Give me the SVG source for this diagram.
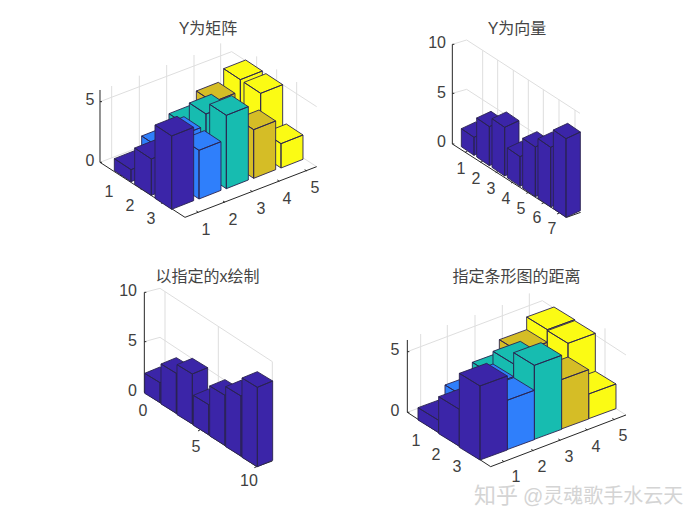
<svg xmlns="http://www.w3.org/2000/svg" width="700" height="525" viewBox="0 0 700 525">
<style>
text{font-family:"Liberation Sans","Noto Sans CJK SC",sans-serif;fill:#404040;font-size:16px;text-anchor:middle}
.t{font-size:16px;fill:#444}
.r{text-anchor:end}
.w{font-size:20px;fill:#d4d4d4;text-anchor:start}
.grid{fill:none;stroke:#dedede;stroke-width:3}
.axis{fill:none;stroke:#262626;stroke-width:3}
.bars path{stroke:#2a2450;stroke-width:2.700;stroke-linejoin:round}
.n{fill:#3b25a8}.b{fill:#2f7ffb}.c{fill:#17bcb0}.m{fill:#d5bd26}.y{fill:#fbfb14}
</style>
<rect width="700" height="525" fill="#fff"/>

<g id="panel1" transform="translate(70 10) scale(.33333)">
<path class="grid" d="M90 275L485 125 740 290M90 457L485 305 740 470M125 228V445M208 197V425M290 165V395M372 135V365M452 100V330M680 216V430M620 178V392M560 139V352"/>
<path class="axis" d="M90 240V457L345 622 740 470M90 275h6M90 457h6M150 497l9-3M212 538l9-3M273 580l9-3M385 607l-6-4M465 577l-6-4M547 545l-6-4M628 514l-6-4M710 483l-6-4"/>
<g class="bars">
<path class="y" d="M511 209l-50-33 66-26 50 33zv182l-50-33v-182zl66-26v182l-66 26z"/>
<path class="m" d="M429 276l-50-33 66-26 50 33zv146l-50-33v-146zl66-26v146l-66 26z"/>
<path class="c" d="M347 344l-50-33 66-26 50 33zv109l-50-33v-109zl66-26v109l-66 26z"/>
<path class="b" d="M265 411l-50-33 66-26 50 33zv73l-50-33v-73zl66-26v73l-66 26z"/>
<path class="n" d="M183 479l-50-33 66-26 50 33zv36l-50-33v-36zl66-26v36l-66 26z"/>
<path class="y" d="M572 250l-50-33 66-26 50 33zv182l-50-33v-182zl66-26v182l-66 26z"/>
<path class="m" d="M490 354l-50-33 66-26 50 33zv109l-50-33v-109zl66-26v109l-66 26z"/>
<path class="c" d="M408 312l-50-33 66-26 50 33zv182l-50-33v-182zl66-26v182l-66 26z"/>
<path class="b" d="M326 379l-50-33 66-26 50 33zv146l-50-33v-146zl66-26v146l-66 26z"/>
<path class="n" d="M244 447l-50-33 66-26 50 33zv109l-50-33v-109zl66-26v109l-66 26z"/>
<path class="y" d="M633 401l-50-33 66-26 50 33zv73l-50-33v-73zl66-26v73l-66 26z"/>
<path class="m" d="M551 359l-50-33 66-26 50 33zv146l-50-33v-146zl66-26v146l-66 26z"/>
<path class="c" d="M469 316l-50-33 66-26 50 33zv220l-50-33v-220zl66-26v220l-66 26z"/>
<path class="b" d="M387 421l-50-33 66-26 50 33zv146l-50-33v-146zl66-26v146l-66 26z"/>
<path class="n" d="M305 378l-50-33 66-26 50 33zv220l-50-33v-220zl66-26v220l-66 26z"/>
</g>
</g>

<g id="panel2" transform="translate(410 10) scale(.33333)">
<path class="grid" d="M127 103L170 90 510 310M127 250L170 238 510 458M218 121V420M263 150V450M310 180V480M355 210V510M400 239V540M447 269V570M495 300V600"/>
<path class="axis" d="M127 103V402L470 622 512 607M127 103h6M127 250h6M127 402h6M165 427l7-3M211 457l7-3M257 488l7-3M303 519l7-3M349 550l7-3M395 581l7-3M441 612l7-3"/>
<g class="bars">
<path class="n" d="M192 382l-38-26 43-20 38 26zv54l-38-26v-54zl43-20v54l-43 20z"/>
<path class="n" d="M238 350l-38-26 43-20 38 26zv117l-38-26v-117zl43-20v117l-43 20z"/>
<path class="n" d="M284 352l-38-26 43-20 38 26zv146l-38-26v-146zl43-20v146l-43 20z"/>
<path class="n" d="M330 440l-38-26 43-20 38 26zv89l-38-26v-89zl43-20v89l-43 20z"/>
<path class="n" d="M376 411l-38-26 43-20 38 26zv149l-38-26v-149zl43-20v149l-43 20z"/>
<path class="n" d="M422 412l-38-26 43-20 38 26zv179l-38-26v-179zl43-20v179l-43 20z"/>
<path class="n" d="M468 386l-38-26 43-20 38 26zv236l-38-26v-236zl43-20v236l-43 20z"/>
</g>
</g>

<g id="panel3" transform="translate(110 260) scale(.33333)">
<path class="grid" d="M103 97L150 85 487 305M103 245L150 232 487 455M165 95V400M325 200V510M487 305V600"/>
<path class="axis" d="M103 97V397L440 620 487 603M103 97h6M103 245h6M103 397h6M271 509l-7 4M440 620l-7 3"/>
<g class="bars">
<path class="n" d="M150 368l-46-28 46-19 46 28zv60l-46-28v-60zl46-19v60l-46 19z"/>
<path class="n" d="M199 340l-46-28 46-19 46 28zv120l-46-28v-120zl46-19v120l-46 19z"/>
<path class="n" d="M247 342l-46-28 46-19 46 28zv150l-46-28v-150zl46-19v150l-46 19z"/>
<path class="n" d="M296 434l-46-28 46-19 46 28zv90l-46-28v-90zl46-19v90l-46 19z"/>
<path class="n" d="M345 406l-46-28 46-19 46 28zv150l-46-28v-150zl46-19v150l-46 19z"/>
<path class="n" d="M393 408l-46-28 46-19 46 28zv180l-46-28v-180zl46-19v180l-46 19z"/>
<path class="n" d="M442 382l-46-28 46-19 46 28zv238l-46-28v-238zl46-19v238l-46 19z"/>
</g>
</g>

<g id="panel4" transform="translate(370 260) scale(.33333)">
<path class="grid" d="M112 275L517 122 768 285M112 457L517 304 768 465M152 222V440M232 195V410M315 165V380M397 135V350M478 100V320M705 205V430"/>
<path class="axis" d="M112 240V457L362 620 768 465M112 275h6M112 457h6M170 495l9-3M232 536l9-3M294 577l9-3M402 605l-6-4M490 572l-6-4M571 541l-6-4M652 510l-6-4M733 479l-6-4"/>
<g class="bars">
<path class="y" d="M532 209l-62-38 82-30 62 38zv185l-62-38v-185zl82-30v185l-82 30z"/>
<path class="m" d="M450 277l-62-38 82-30 62 38zv148l-62-38v-148zl82-30v148l-82 30z"/>
<path class="c" d="M369 345l-62-38 82-30 62 38zv111l-62-38v-111zl82-30v111l-82 30z"/>
<path class="b" d="M287 413l-62-38 82-30 62 38zv74l-62-38v-74zl82-30v74l-82 30z"/>
<path class="n" d="M206 481l-62-38 82-30 62 38zv37l-62-38v-37zl82-30v37l-82 30z"/>
<path class="y" d="M594 250l-62-38 82-30 62 38zv185l-62-38v-185zl82-30v185l-82 30z"/>
<path class="m" d="M512 355l-62-38 82-30 62 38zv111l-62-38v-111zl82-30v111l-82 30z"/>
<path class="c" d="M431 312l-62-38 82-30 62 38zv185l-62-38v-185zl82-30v185l-82 30z"/>
<path class="b" d="M349 380l-62-38 82-30 62 38zv148l-62-38v-148zl82-30v148l-82 30z"/>
<path class="n" d="M268 448l-62-38 82-30 62 38zv111l-62-38v-111zl82-30v111l-82 30z"/>
<path class="y" d="M656 402l-62-38 82-30 62 38zv74l-62-38v-74zl82-30v74l-82 30z"/>
<path class="m" d="M574 359l-62-38 82-30 62 38zv148l-62-38v-148zl82-30v148l-82 30z"/>
<path class="c" d="M493 316l-62-38 82-30 62 38zv222l-62-38v-222zl82-30v222l-82 30z"/>
<path class="b" d="M411 421l-62-38 82-30 62 38zv148l-62-38v-148zl82-30v148l-82 30z"/>
<path class="n" d="M330 378l-62-38 82-30 62 38zv222l-62-38v-222zl82-30v222l-82 30z"/>
</g>
</g>

<g id="labels">
<text class="t" x="208" y="34">Y为矩阵</text>
<text x="90" y="105">5</text><text x="90" y="166">0</text>
<text x="109" y="197">1</text><text x="130" y="211">2</text><text x="151" y="224">3</text>
<text x="206" y="235">1</text><text x="233" y="225">2</text><text x="261" y="214">3</text><text x="287" y="204">4</text><text x="315" y="193">5</text>

<text class="t" x="517" y="34">Y为向量</text>
<text class="r" x="446" y="48">10</text><text class="r" x="446" y="98">5</text><text class="r" x="446" y="147">0</text>
<text x="461" y="174">1</text><text x="476" y="184">2</text><text x="491" y="194">3</text><text x="506" y="204">4</text><text x="521" y="214">5</text><text x="537" y="223">6</text><text x="552" y="234">7</text>

<text class="t" x="207.500" y="282">以指定的x绘制</text>
<text class="r" x="137" y="296">10</text><text class="r" x="137" y="346">5</text><text class="r" x="137" y="396">0</text>
<text x="143" y="416">0</text><text x="196" y="452">5</text><text x="249" y="486">10</text>

<text class="t" x="516.500" y="282">指定条形图的距离</text>
<text x="395" y="355">5</text><text x="395" y="416">0</text>
<text x="416" y="446">1</text><text x="436" y="460">2</text><text x="457" y="472">3</text>
<text x="516" y="482">1</text><text x="542" y="472">2</text><text x="569" y="462">3</text><text x="596" y="452">4</text><text x="623" y="441">5</text>

<text class="w" x="474" y="503" style="font-size:22px">知乎</text>
<text class="w" x="523" y="503">@灵魂歌手水云天</text>
</g>
</svg>
